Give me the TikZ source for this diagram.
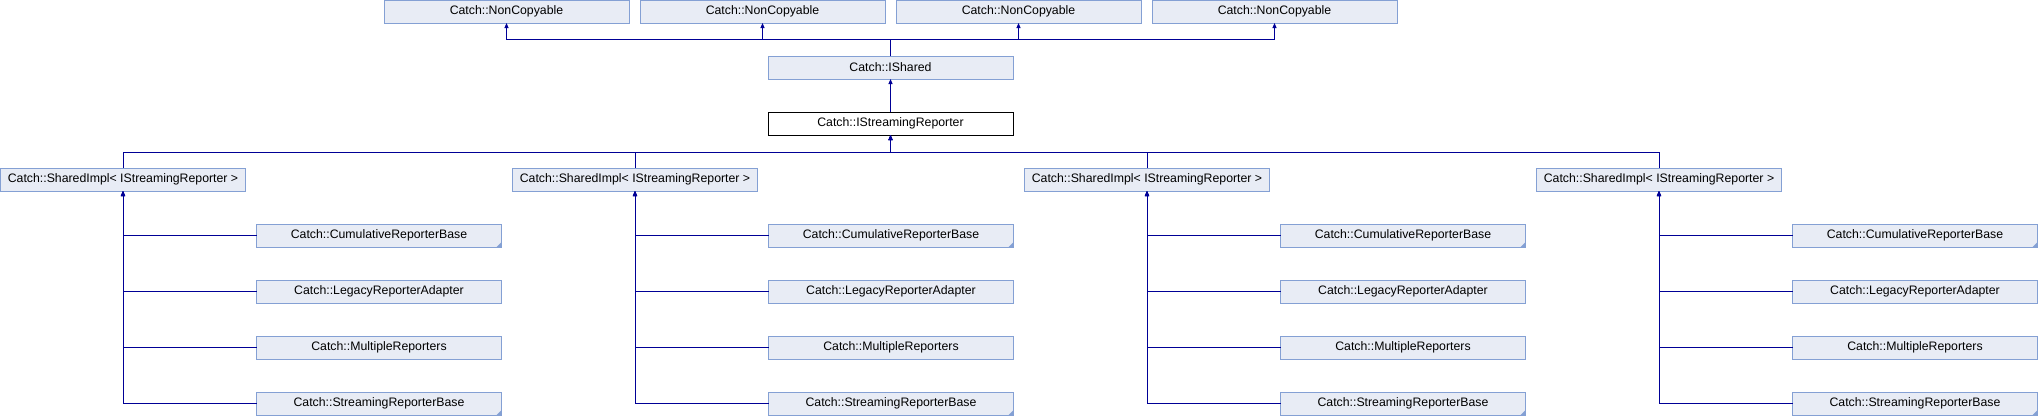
\documentclass[tikz,border=0pt]{standalone}
\usepackage{fontspec}
\setmainfont{Liberation Sans}
\usetikzlibrary{arrows.meta,positioning}

\definecolor{doxfill}{RGB}{232,236,245}
\definecolor{doxborder}{RGB}{132,160,212}
\definecolor{doxline}{RGB}{0,0,150}

\begin{document}
\begin{tikzpicture}
[x=1pt, y=-1pt, font=\fontsize{12.3}{14}\selectfont,
% STYLES
every node/.style={outer sep=0pt},
% The class style is used for every class box
class/.style={rectangle, draw=doxborder, fill=doxfill, line width=1pt, minimum width=245pt, minimum height=23pt, inner sep=0pt},
% the class the diagram is drawn for
current/.style={class, draw=black, fill=white},
% classes that have more derived classes get a corner mark
more/.style={class, path picture={\fill[doxborder] (path picture bounding box.south east) -- ++(-5pt,0pt) -- ++(5pt,5pt) -- cycle;}},
% Define styles for the inheritance lines
inherit/.style={doxline, line width=1pt, -{Triangle[length=5pt,width=4pt]}},
branch/.style={inherit, to path={-| (\tikztotarget)}}]

\useasboundingbox (0,0) rectangle (2038,416);

% Draw classes
\node [current] (istream) at (890.5,123.5) {Catch::IStreamingReporter};
\node [class, above=33pt of istream] (ishared) {Catch::IShared};

\node [class] (noncopy-a) at (506.5,11.5) {Catch::NonCopyable};
\node [class, right=11pt of noncopy-a] (noncopy-b) {Catch::NonCopyable};
\node [class, right=11pt of noncopy-b] (noncopy-c) {Catch::NonCopyable};
\node [class, right=11pt of noncopy-c] (noncopy-d) {Catch::NonCopyable};

\node [class] (shared-a) at (123,179.5) {Catch::SharedImpl< IStreamingReporter >};
\node [class, right=267pt of shared-a] (shared-b) {Catch::SharedImpl< IStreamingReporter >};
\node [class, right=267pt of shared-b] (shared-c) {Catch::SharedImpl< IStreamingReporter >};
\node [class, right=267pt of shared-c] (shared-d) {Catch::SharedImpl< IStreamingReporter >};

%%%%%%%%%%%%%%%

% shared-a
\node [more, below right=33pt and 11pt of shared-a] (cumul-a) {Catch::CumulativeReporterBase};
\node [class, below=33pt of cumul-a] (legacy-a) {Catch::LegacyReporterAdapter};
\node [class, below=33pt of legacy-a] (multi-a) {Catch::MultipleReporters};
\node [more, below=33pt of multi-a] (stream-a) {Catch::StreamingReporterBase};

% shared-b
\node [more, below right=33pt and 11pt of shared-b] (cumul-b) {Catch::CumulativeReporterBase};
\node [class, below=33pt of cumul-b] (legacy-b) {Catch::LegacyReporterAdapter};
\node [class, below=33pt of legacy-b] (multi-b) {Catch::MultipleReporters};
\node [more, below=33pt of multi-b] (stream-b) {Catch::StreamingReporterBase};

% shared-c
\node [more, below right=33pt and 11pt of shared-c] (cumul-c) {Catch::CumulativeReporterBase};
\node [class, below=33pt of cumul-c] (legacy-c) {Catch::LegacyReporterAdapter};
\node [class, below=33pt of legacy-c] (multi-c) {Catch::MultipleReporters};
\node [more, below=33pt of multi-c] (stream-c) {Catch::StreamingReporterBase};

% shared-d
\node [more, below right=33pt and 11pt of shared-d] (cumul-d) {Catch::CumulativeReporterBase};
\node [class, below=33pt of cumul-d] (legacy-d) {Catch::LegacyReporterAdapter};
\node [class, below=33pt of legacy-d] (multi-d) {Catch::MultipleReporters};
\node [more, below=33pt of multi-d] (stream-d) {Catch::StreamingReporterBase};

%%%%%%%%%%%%%%%%

\draw [inherit] (ishared.north) -- ++(0,-16.5) -| (noncopy-a.south);
\draw [inherit] (ishared.north) -- ++(0,-16.5) -| (noncopy-b.south);
\draw [inherit] (ishared.north) -- ++(0,-16.5) -| (noncopy-c.south);
\draw [inherit] (ishared.north) -- ++(0,-16.5) -| (noncopy-d.south);
\draw [inherit] (istream) -- (ishared);

\draw [inherit] (shared-a.north) -- ++(0,-16) -| (istream.south);
\draw [inherit] (shared-b.north) -- ++(0,-16) -| (istream.south);
\draw [inherit] (shared-c.north) -- ++(0,-16) -| (istream.south);
\draw [inherit] (shared-d.north) -- ++(0,-16) -| (istream.south);

\path
(cumul-a.west) edge [branch] (shared-a.south)
(legacy-a.west) edge [branch] (shared-a.south)
(multi-a.west) edge [branch] (shared-a.south)
(stream-a.west) edge [branch] (shared-a.south)
(cumul-b.west) edge [branch] (shared-b.south)
(legacy-b.west) edge [branch] (shared-b.south)
(multi-b.west) edge [branch] (shared-b.south)
(stream-b.west) edge [branch] (shared-b.south)
(cumul-c.west) edge [branch] (shared-c.south)
(legacy-c.west) edge [branch] (shared-c.south)
(multi-c.west) edge [branch] (shared-c.south)
(stream-c.west) edge [branch] (shared-c.south)
(cumul-d.west) edge [branch] (shared-d.south)
(legacy-d.west) edge [branch] (shared-d.south)
(multi-d.west) edge [branch] (shared-d.south)
(stream-d.west) edge [branch] (shared-d.south);

\end{tikzpicture}
\end{document}
